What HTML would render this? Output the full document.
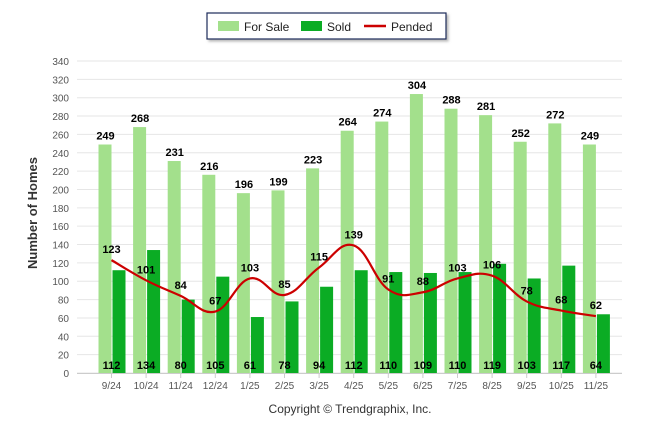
<!DOCTYPE html>
<html><head><meta charset="utf-8"><style>
body{margin:0;background:#fff;width:646px;height:434px;overflow:hidden;font-family:"Liberation Sans",sans-serif}
</style></head><body>
<svg id="c" width="646" height="434" xmlns="http://www.w3.org/2000/svg">
<defs><filter id="sh" x="-10%" y="-10%" width="130%" height="160%"><feDropShadow dx="2" dy="2" stdDeviation="1.2" flood-color="#888" flood-opacity="0.6"/></filter></defs>
<g>
<rect x="207" y="13" width="239" height="26" fill="#fff" stroke="#1a2a5a" stroke-width="1.2" filter="url(#sh)"/>
<g><rect x="218" y="21" width="21" height="10" fill="#a3e08c"/><text x="244" y="31" font-size="12" fill="#222">For Sale</text></g>
<g><rect x="301" y="21" width="21" height="10" fill="#0bac24"/><text x="327" y="31" font-size="12" fill="#222">Sold</text></g>
<g><line x1="364" y1="26" x2="386" y2="26" stroke="#cc0000" stroke-width="2.5"/><text x="391" y="31" font-size="12" fill="#222">Pended</text></g>
</g>
<g id="grid"></g>
<g id="bars"></g>
<g id="line"></g>
<g id="lbl"></g>
<text x="37" y="213" transform="rotate(-90 37 213)" text-anchor="middle" font-size="13" font-weight="bold" fill="#333">Number of Homes</text>
<text x="350" y="413" text-anchor="middle" font-size="12" fill="#333">Copyright © Trendgraphix, Inc.</text>
</svg>
<script>
const categories=["9/24","10/24","11/24","12/24","1/25","2/25","3/25","4/25","5/25","6/25","7/25","8/25","9/25","10/25","11/25"];
const forSale=[249,268,231,216,196,199,223,264,274,304,288,281,252,272,249];
const sold=[112,134,80,105,61,78,94,112,110,109,110,119,103,117,64];
const pended=[123,101,84,67,103,85,115,139,91,88,103,106,78,68,62];
const yTicks=[0,20,40,60,80,100,120,140,160,180,200,220,240,260,280,300,320,340];
const NS="http://www.w3.org/2000/svg";
const y=v=>373-v*(312/340);
const x=i=>111.5+i*34.6;
function mk(t,a,p,txt){const e=document.createElementNS(NS,t);for(const k in a)e.setAttribute(k,a[k]);if(txt!==undefined)e.textContent=txt;p.appendChild(e);return e;}
const grid=document.getElementById('grid'),bars=document.getElementById('bars'),line=document.getElementById('line'),lbl=document.getElementById('lbl');
yTicks.forEach(t=>{
  const l=mk('line',{x1:77,x2:622,y1:y(t),y2:y(t),stroke:'#e6e6e6','stroke-width':1},grid);
  
  
  const tx=mk('text',{x:69,y:y(t)+4,'text-anchor':'end','font-size':10,fill:'#555'},grid,t);
  
  
});
mk('line',{x1:77,x2:622,y1:373.5,y2:373.5,stroke:'#ccc'},grid);
categories.forEach((c,i)=>{
  const cx=x(i);
  const tk=mk('line',{x1:cx,x2:cx,y1:373,y2:378,stroke:'#ccc'},grid);
  
  
  const t=mk('text',{x:cx,y:389,'text-anchor':'middle','font-size':10,fill:'#555'},grid,c);
  
  
  const b1=mk('rect',{x:cx-13,y:y(forSale[i]),width:13,height:y(0)-y(forSale[i]),fill:'#a3e08c'},bars);
  
  
  const b2=mk('rect',{x:cx+1,y:y(sold[i]),width:13,height:y(0)-y(sold[i]),fill:'#0bac24'},bars);
  
  
  const l1=mk('text',{x:cx-6,y:y(forSale[i])-5,'text-anchor':'middle','font-size':11,'font-weight':'bold',fill:'#000'},lbl,forSale[i]);
  
  
  const l2=mk('text',{x:cx,y:369,'text-anchor':'middle','font-size':11,'font-weight':'bold',fill:'#000'},lbl,sold[i]);
  
  
  const l3=mk('text',{x:cx,y:y(pended[i])-7,'text-anchor':'middle','font-size':11,'font-weight':'bold',fill:'#000'},lbl,pended[i]);
  
  
});
const pts=pended.map((v,i)=>[x(i),y(v)]);
let d='M'+pts[0][0]+','+pts[0][1];
for(let i=0;i<pts.length-1;i++){
  const p0=pts[Math.max(i-1,0)],p1=pts[i],p2=pts[i+1],p3=pts[Math.min(i+2,pts.length-1)];
  const t=0.2;
  d+=` C${p1[0]+(p2[0]-p0[0])*t},${p1[1]+(p2[1]-p0[1])*t} ${p2[0]-(p3[0]-p1[0])*t},${p2[1]-(p3[1]-p1[1])*t} ${p2[0]},${p2[1]}`;
}
const pl=mk('path',{d:d,fill:'none',stroke:'#cc0000','stroke-width':2.2},line);


</script>
</body></html>
